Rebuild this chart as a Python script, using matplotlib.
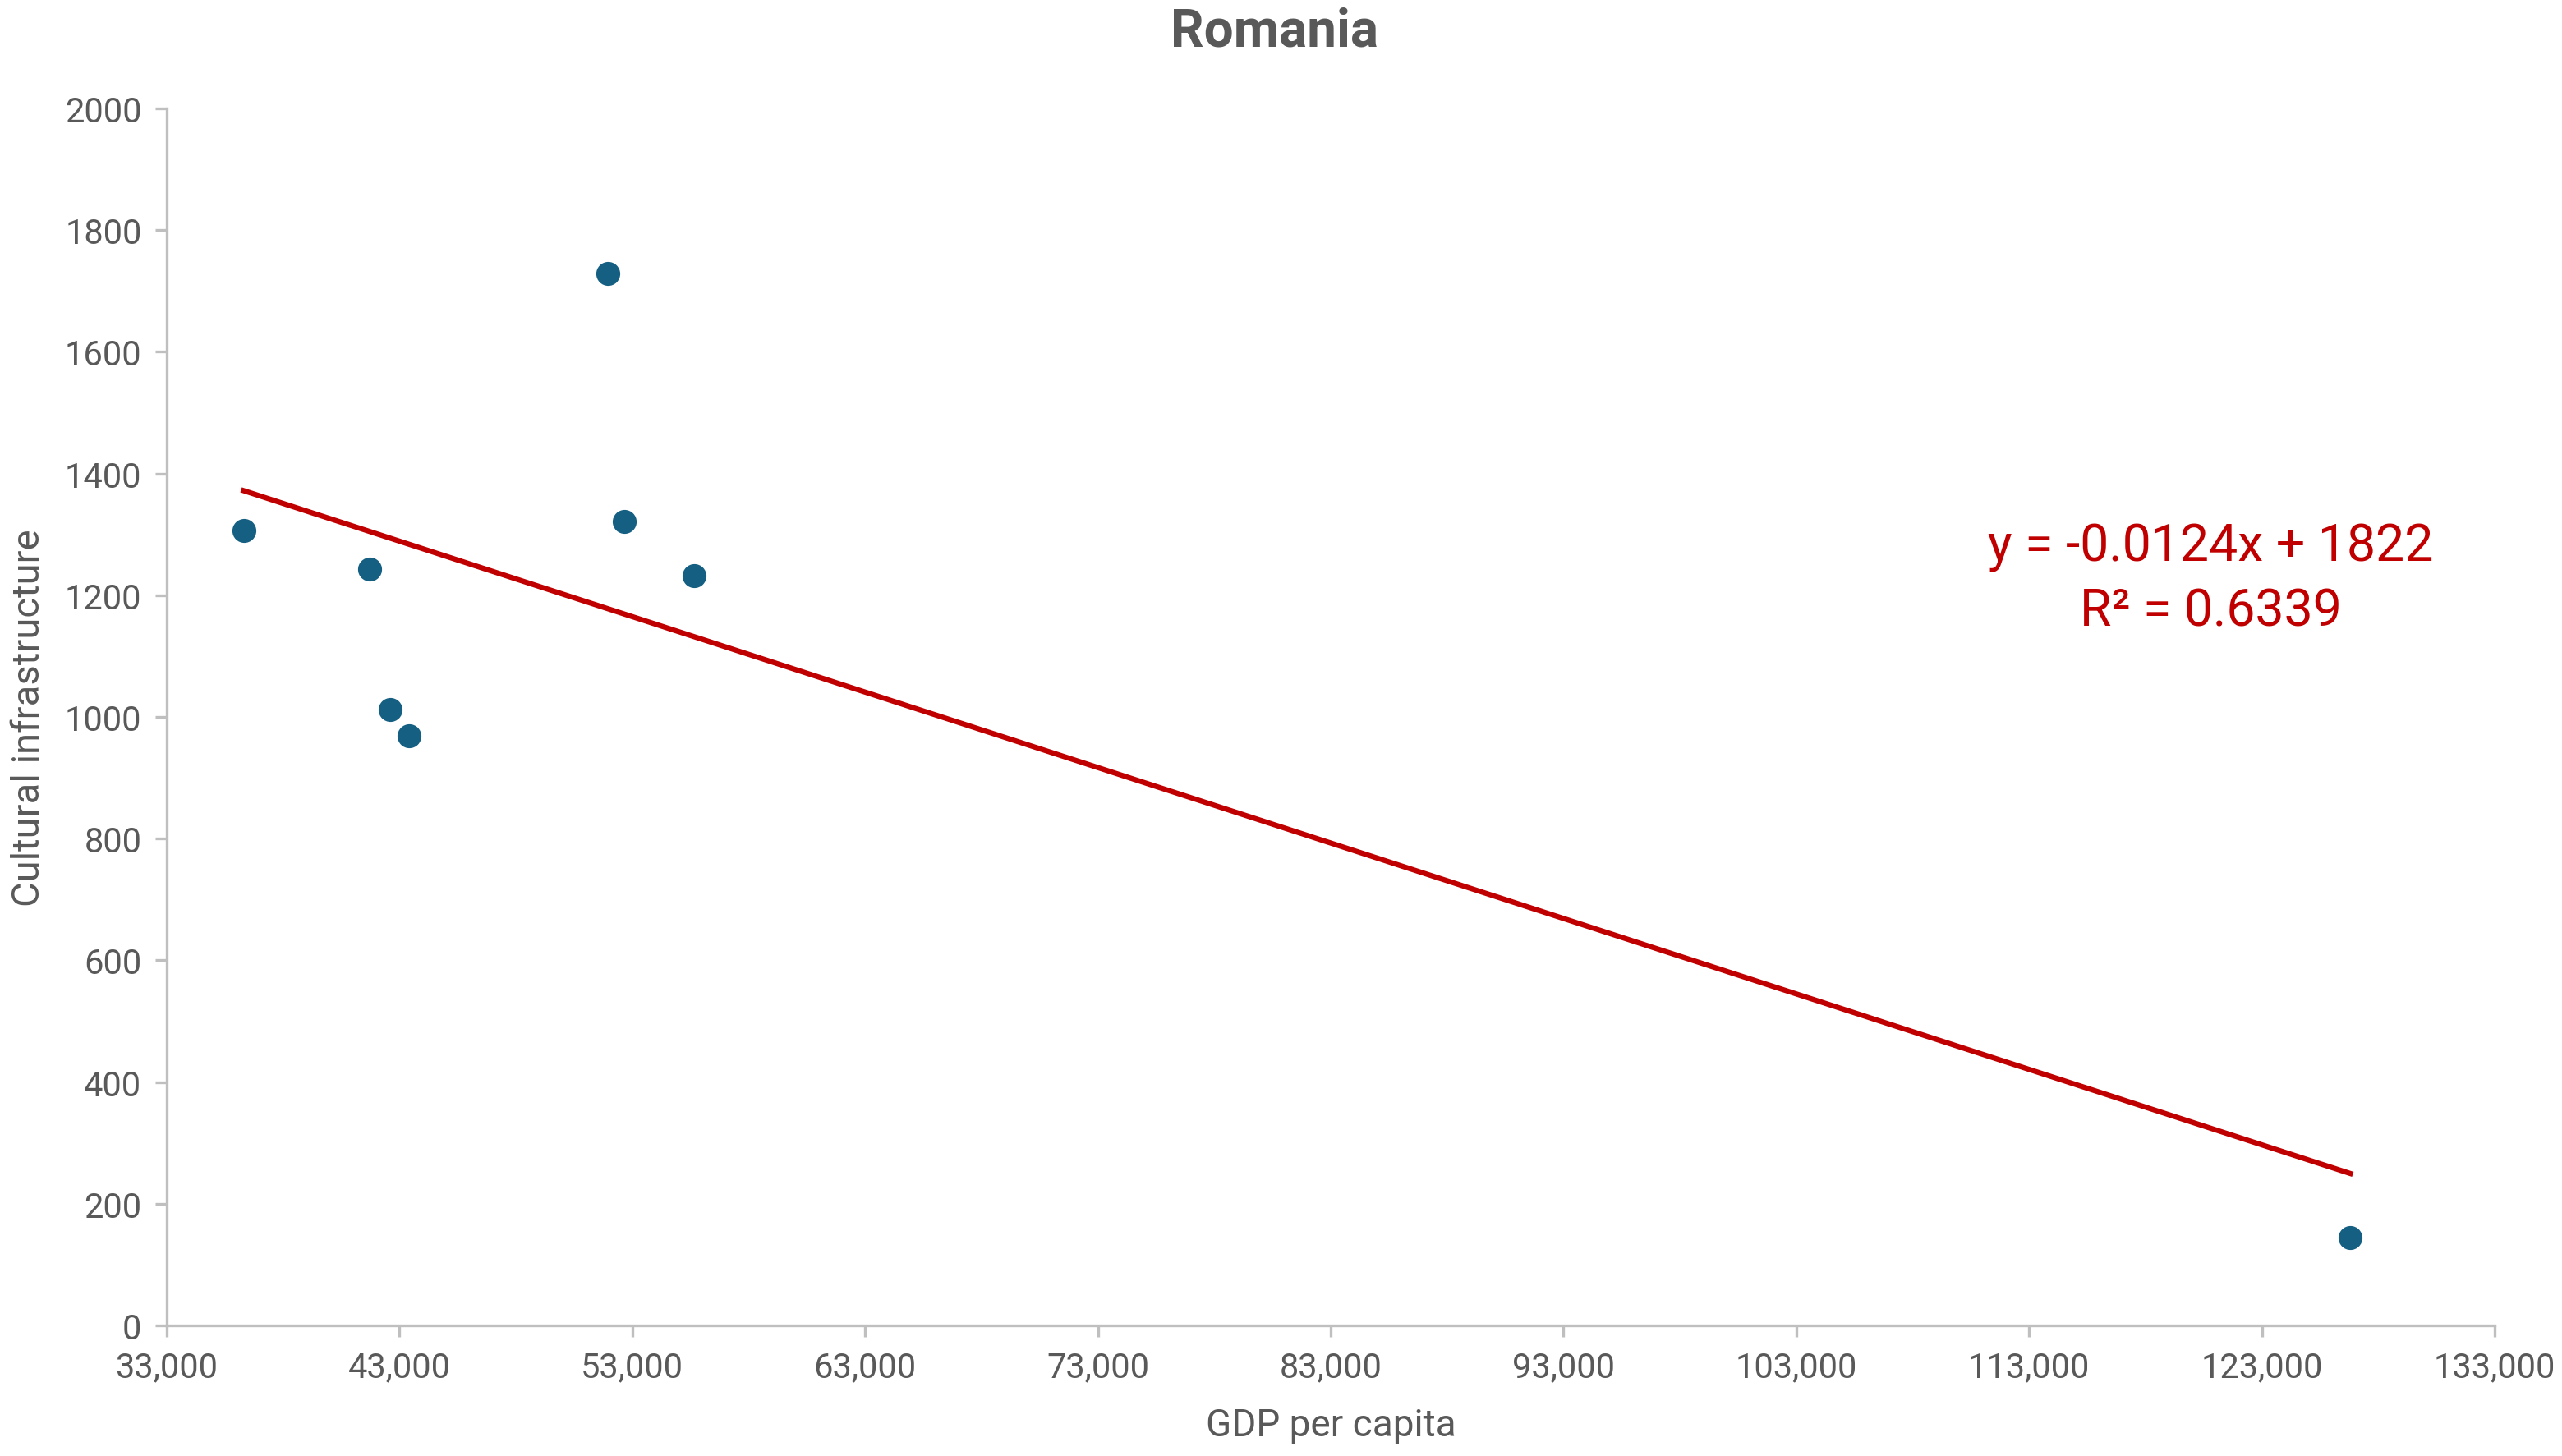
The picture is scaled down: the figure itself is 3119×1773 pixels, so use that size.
import numpy as np
import matplotlib.pyplot as plt
from matplotlib.ticker import FuncFormatter, MultipleLocator

plt.rcParams['font.family'] = ['Roboto', 'DejaVu Sans']

# data
gdp = [36300, 41700, 42600, 43400, 51950, 52650, 55650, 126800]
culture = [1307, 1243, 1012, 969, 1729, 1321, 1232, 145]
slope = -0.0124
intercept = 1822
r2 = 0.6339
x_ticks = [33000, 43000, 53000, 63000, 73000, 83000, 93000, 103000, 113000, 123000, 133000]

grey = '#595959'
axis_col = '#BFBFBF'

fig = plt.figure(figsize=(15.595, 8.87), dpi=200)
ax = fig.add_axes([203/3119, 1 - 1615/1774, (3037-203)/3119, (1615-133)/1774])

x = np.array(gdp)
xs = np.array([x.min(), x.max()])
ax.plot(xs, slope * xs + intercept, color='#C00000', lw=2.3, zorder=2)
ax.plot(gdp, culture, 'o', color='#156082', ms=9.5, zorder=3)

ax.set_xlim(33000, 133000)
ax.set_ylim(0, 2000)
ax.set_xticks(x_ticks)
ax.yaxis.set_major_locator(MultipleLocator(200))
ax.xaxis.set_major_formatter(FuncFormatter(lambda v, p: f'{int(v):,}'))

for s in ['top', 'right']:
    ax.spines[s].set_visible(False)
for s in ['left', 'bottom']:
    ax.spines[s].set_color(axis_col)
    ax.spines[s].set_linewidth(1.2)
ax.tick_params(colors=axis_col, labelcolor=grey, labelsize=15, length=5, width=1.2, pad=6)

ax.set_xlabel('GDP per capita', fontsize=16.5, color=grey, labelpad=10)
ax.set_ylabel('Cultural infrastructure', fontsize=17, color=grey, labelpad=8)
fig.text(0.4975, 0.995, 'Romania', ha='center', va='top', fontsize=23,
         fontweight='bold', color=grey)

ax.text(0.878, 0.64, f'y = {slope}x + {intercept}', transform=ax.transAxes,
        ha='center', va='center', fontsize=22.5, color='#C00000')
ax.text(0.878, 0.587, f'R² = {r2}', transform=ax.transAxes,
        ha='center', va='center', fontsize=22.5, color='#C00000')

fig.savefig('out.png', dpi=200, facecolor='white')
